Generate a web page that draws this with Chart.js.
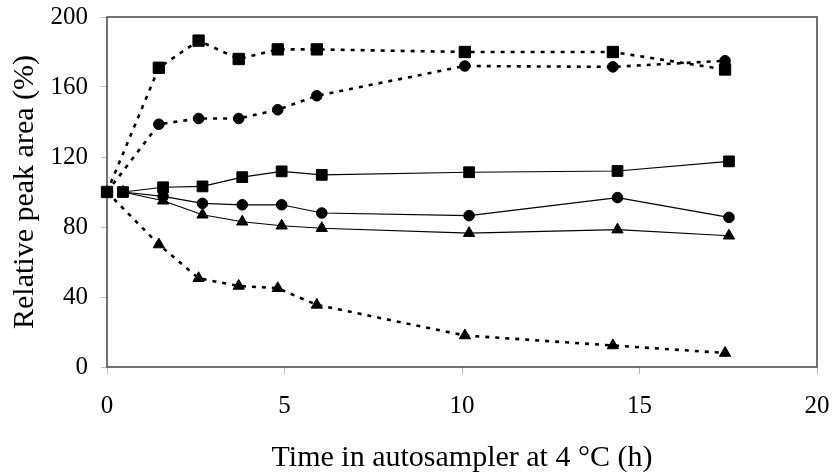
<!DOCTYPE html>
<html>
<head>
<meta charset="utf-8">
<script src="https://cdn.jsdelivr.net/npm/chart.js@4.4.1/dist/chart.umd.min.js"></script>
<style>
  html, body { margin: 0; padding: 0; background: #fff; }
  #wrap { width: 832px; height: 474px; }
</style>
</head>
<body>
<div id="wrap"><canvas id="c" width="832" height="474"></canvas></div>
<script>
// Time points (h)
const timeDashed = [0, 1.46, 2.58, 3.71, 4.81, 5.91, 10.08, 14.25, 17.41];
const timeSolid  = [0.45, 1.58, 2.69, 3.81, 4.92, 6.05, 10.2, 14.38, 17.52];

// Relative peak area (%)
const dashedSquare   = [100, 171, 186.5, 176, 181.5, 181.5, 180, 180, 170];
const dashedCircle   = [100, 138.7, 142, 142, 147, 155, 172, 171.5, 175];
const dashedTriangle = [100, 70, 50.7, 46.3, 45, 35.5, 18, 12.3, 8];
const solidSquare    = [100, 102.7, 103.2, 108.5, 111.8, 109.8, 111.3, 112, 117.5];
const solidCircle    = [100, 97.5, 93.5, 92.7, 92.7, 88, 86.5, 96.8, 85.5];
const solidTriangle  = [100, 95, 87, 83, 80.7, 79.3, 76.5, 78.5, 75];

const xTicks = [0, 5, 10, 15, 20];
const yTicks = [0, 40, 80, 120, 160, 200];

function pts(xs, ys) { return xs.map((x, i) => ({ x: x, y: ys[i] })); }

function ds(xs, ys, style, dashed, r) {
  return {
    data: pts(xs, ys),
    showLine: true,
    borderColor: '#000',
    backgroundColor: '#000',
    borderWidth: dashed ? 2.6 : 1.2,
    borderDash: dashed ? [4, 6] : [],
    pointStyle: style,
    pointRadius: r,
    pointHoverRadius: r,
    pointBackgroundColor: '#000',
    pointBorderColor: '#000',
    pointBorderWidth: 1,
    clip: false,
    tension: 0
  };
}

const frame = {
  id: 'frame',
  beforeDatasetsDraw(chart) {
    const a = chart.chartArea, ctx = chart.ctx;
    ctx.save();
    ctx.strokeStyle = '#444';
    ctx.lineWidth = 1.5;
    ctx.strokeRect(a.left, a.top, a.right - a.left, a.bottom - a.top);
    ctx.restore();
  }
};

const serif = "'Liberation Serif', 'Times New Roman', serif";

new Chart(document.getElementById('c'), {
  type: 'scatter',
  data: {
    datasets: [
      ds(timeDashed, dashedTriangle, 'triangle', true, 6.5),
      ds(timeDashed, dashedCircle, 'circle', true, 5.3),
      ds(timeDashed, dashedSquare, 'rect', true, 8),
      ds(timeSolid, solidTriangle, 'triangle', false, 6.5),
      ds(timeSolid, solidCircle, 'circle', false, 5.3),
      ds(timeSolid, solidSquare, 'rect', false, 7.6)
    ]
  },
  options: {
    responsive: false,
    animation: false,
    devicePixelRatio: 1,
    layout: { autoPadding: false, padding: { top: 17, right: 15, left: 0, bottom: 0 } },
    plugins: { legend: { display: false }, tooltip: { enabled: false } },
    scales: {
      x: {
        type: 'linear',
        min: 0, max: 20,
        afterBuildTicks(s) { s.ticks = xTicks.map(v => ({ value: v })); },
        afterFit(s) { s.height = 107; s.paddingLeft = 0; s.paddingRight = 0; },
        grid: { display: true, drawOnChartArea: false, drawTicks: true, tickLength: 7, color: '#bbb', tickColor: '#bbb' },
        border: { display: false },
        ticks: { color: '#000', padding: 17, font: { family: serif, size: 25 }, maxRotation: 0 },
        title: { display: true, text: 'Time in autosampler at 4 \u00B0C (h)', color: '#000', font: { family: serif, size: 30, lineHeight: 1 }, padding: { top: 0, bottom: 1 } }
      },
      y: {
        type: 'linear',
        min: 0, max: 200,
        afterBuildTicks(s) { s.ticks = yTicks.map(v => ({ value: v })); },
        afterFit(s) { s.width = 107; s.paddingTop = 0; s.paddingBottom = 0; },
        grid: { display: true, drawOnChartArea: false, drawTicks: true, tickLength: 6, color: '#bbb', tickColor: '#bbb' },
        border: { display: false },
        ticks: { color: '#000', padding: 13, font: { family: serif, size: 25 } },
        title: { display: true, text: 'Relative peak area (%)', color: '#000', font: { family: serif, size: 30, lineHeight: 1 }, padding: { top: 10, bottom: 0 } }
      }
    }
  },
  plugins: [frame]
});
</script>
</body>
</html>
